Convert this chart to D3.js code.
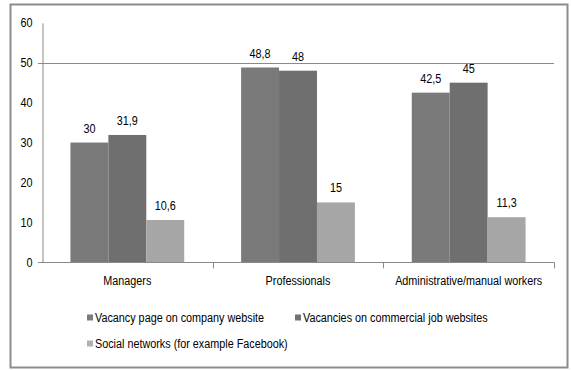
<!DOCTYPE html>
<html>
<head>
<meta charset="utf-8">
<script src="https://cdn.jsdelivr.net/npm/d3@7"></script>
<style>
  html, body { margin: 0; padding: 0; background: #fff; }
  svg { display: block; }
  text { font-family: "Liberation Sans", Arial, sans-serif; fill: #000; }
</style>
</head>
<body>
<svg id="chart" width="571" height="370"></svg>
<script>
// Share of recruiting channels by occupation group (%)
const categories = ["Managers", "Professionals", "Administrative/manual workers"];
const seriesNames = [
  "Vacancy page on company website",
  "Vacancies on commercial job websites",
  "Social networks (for example Facebook)"
];
const companySite = [30, 48.8, 42.5];
const jobWebsites = [31.9, 48, 45];
const socialNetworks = [10.6, 15, 11.3];
const yTicks = [0, 10, 20, 30, 40, 50, 60];

const seriesValues = [companySite, jobWebsites, socialNetworks];
const colors = ["#7a7a7a", "#6f6f6f", "#a6a6a6"];
const legendColors = ["#7c7c7c", "#727272", "#b0b0b0"];
const axisColor = "#8a8a8a";
const FONT = 12;
const SQUEEZE = 0.9; // condensed lettering

// narrow every label horizontally, keeping its anchor
function condense(sel) {
  sel.each(function () {
    const w = this.getComputedTextLength();
    d3.select(this).attr("textLength", w * SQUEEZE).attr("lengthAdjust", "spacingAndGlyphs");
  });
}

const svg = d3.select("#chart");

// outer frame
svg.append("rect")
  .attr("x", 10.5).attr("y", 4.5)
  .attr("width", 557).attr("height", 363)
  .attr("fill", "#fff")
  .attr("stroke", "#8c8c8c")
  .attr("stroke-width", 2);

const plot = { left: 42, right: 554, top: 22.8, bottom: 262.3 };

const y = d3.scaleLinear().domain([0, 60]).range([plot.bottom, plot.top]);
const x = d3.scaleBand().domain(categories).range([plot.left, plot.right]).padding(0);
const xs = d3.scaleBand().domain(d3.range(seriesNames.length))
  .range([0, x.bandwidth()]).paddingInner(0).paddingOuter(0.75);

const fmt = v => String(v).replace(".", ",");

// gridline at 50
svg.append("line")
  .attr("x1", plot.left - 4).attr("x2", plot.right)
  .attr("y1", Math.round(y(50)) + 0.5).attr("y2", Math.round(y(50)) + 0.5)
  .attr("stroke", axisColor).attr("stroke-width", 1);

// bars
const rows = categories.map((c, i) => ({ c, vals: seriesValues.map(s => s[i]) }));
const groups = svg.append("g").selectAll("g").data(rows).join("g")
  .attr("transform", d => `translate(${x(d.c)},0)`);

groups.selectAll("rect").data(d => d.vals.map((v, k) => ({ v, k }))).join("rect")
  .attr("x", d => xs(d.k))
  .attr("y", d => y(d.v))
  .attr("width", xs.bandwidth())
  .attr("height", d => y(0) - y(d.v))
  .attr("fill", d => colors[d.k]);

groups.selectAll("text.val").data(d => d.vals.map((v, k) => ({ v, k }))).join("text")
  .attr("class", "val")
  .attr("x", d => xs(d.k) + xs.bandwidth() / 2)
  .attr("y", d => y(d.v) - 10)
  .attr("text-anchor", "middle")
  .attr("font-size", FONT)
  .text(d => fmt(d.v))
  .call(condense);

// y axis
const yAxis = d3.axisLeft(y).tickValues(yTicks).tickSize(0).tickPadding(10).tickFormat(d3.format("d"));
const gy = svg.append("g").attr("transform", `translate(${plot.left + 0.5},0)`).call(yAxis);
gy.select(".domain").attr("stroke", axisColor);
gy.selectAll("text").attr("font-size", FONT).attr("font-family", null).call(condense);

// x axis
const xAxis = d3.axisBottom(x).tickSize(0).tickPadding(14);
const gx = svg.append("g").attr("transform", `translate(0,${Math.round(plot.bottom) + 0.5})`).call(xAxis);
gx.select(".domain").attr("d", `M${plot.left - 4},0H${plot.right}`).attr("stroke", axisColor);
gx.selectAll("text").attr("font-size", FONT).attr("font-family", null).call(condense);
// category boundary ticks
svg.append("g").selectAll("line").data(categories).join("line")
  .attr("x1", d => Math.round(x(d) + x.bandwidth()) + 0.5)
  .attr("x2", d => Math.round(x(d) + x.bandwidth()) + 0.5)
  .attr("y1", plot.bottom).attr("y2", plot.bottom + 6)
  .attr("stroke", axisColor);

// legend
const legendPos = [[87, 318], [295, 318], [87, 344]];
const lg = svg.append("g").selectAll("g").data(seriesNames).join("g")
  .attr("transform", (d, i) => `translate(${legendPos[i][0]},${legendPos[i][1]})`);
lg.append("rect").attr("x", 0).attr("y", -3.5).attr("width", 6).attr("height", 6)
  .attr("fill", (d, i) => legendColors[i]);
lg.append("text").attr("x", 8).attr("y", 0).attr("dy", "0.35em")
  .attr("font-size", FONT).text(d => d)
  .call(condense);
</script>
</body>
</html>
